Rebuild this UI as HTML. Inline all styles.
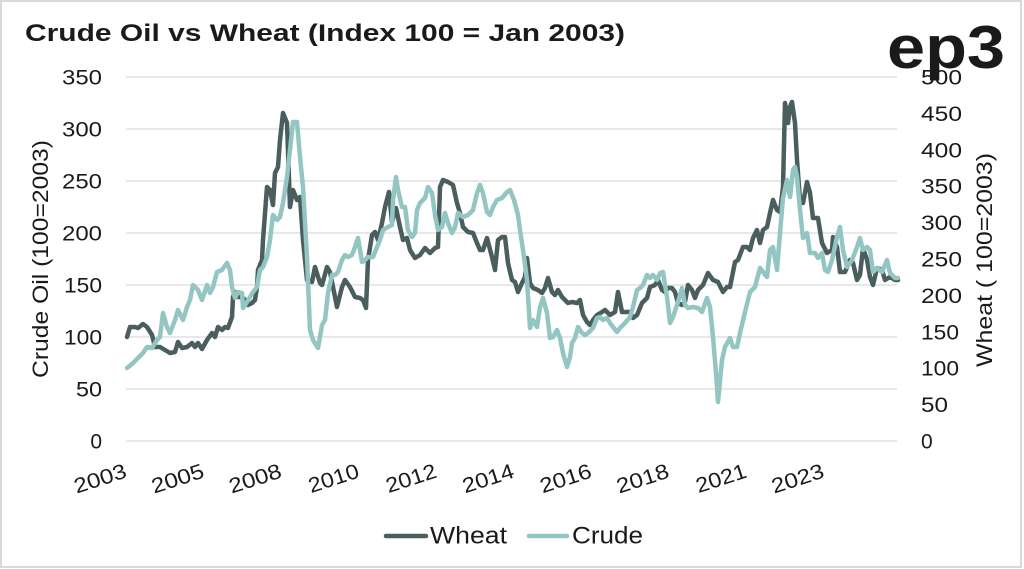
<!DOCTYPE html>
<html>
<head>
<meta charset="utf-8">
<style>
  html,body{margin:0;padding:0;background:#fff;}
  svg{display:block;}
  text{font-family:"Liberation Sans",Arial,sans-serif;fill:#1a1a1a;}
</style>
</head>
<body>
<svg width="1024" height="569" viewBox="0 0 1024 569" xmlns="http://www.w3.org/2000/svg">
  <rect x="0" y="0" width="1024" height="569" fill="#fff"/>
  <rect x="1" y="1" width="1020" height="566" fill="none" stroke="#d9d9d9" stroke-width="2"/>

  <!-- Title -->
  <text x="25" y="41" font-size="24" font-weight="bold" textLength="600" lengthAdjust="spacingAndGlyphs" fill="#111">Crude Oil vs Wheat (Index 100 = Jan 2003)</text>

  <!-- Logo -->
  <text x="887" y="68" font-size="60" font-weight="bold" textLength="118" lengthAdjust="spacingAndGlyphs" fill="#1c1c1c">ep3</text>

  <!-- gridlines -->
  <g stroke="#d9d9d9" stroke-width="1.3">
    <line x1="126" y1="77" x2="897" y2="77"/>
    <line x1="126" y1="129" x2="897" y2="129"/>
    <line x1="126" y1="181" x2="897" y2="181"/>
    <line x1="126" y1="233" x2="897" y2="233"/>
    <line x1="126" y1="285" x2="897" y2="285"/>
    <line x1="126" y1="337" x2="897" y2="337"/>
    <line x1="126" y1="389" x2="897" y2="389"/>
    <line x1="126" y1="441" x2="897" y2="441"/>
  </g>

  <!-- left ticks -->
  <g font-size="21" text-anchor="end">
    <text x="102" y="84.5" textLength="40" lengthAdjust="spacingAndGlyphs">350</text>
    <text x="102" y="136.5" textLength="40" lengthAdjust="spacingAndGlyphs">300</text>
    <text x="102" y="188.5" textLength="40" lengthAdjust="spacingAndGlyphs">250</text>
    <text x="102" y="240.5" textLength="40" lengthAdjust="spacingAndGlyphs">200</text>
    <text x="102" y="292.5" textLength="38" lengthAdjust="spacingAndGlyphs">150</text>
    <text x="102" y="344.5" textLength="38" lengthAdjust="spacingAndGlyphs">100</text>
    <text x="102" y="396.5" textLength="26" lengthAdjust="spacingAndGlyphs">50</text>
    <text x="102" y="448.5">0</text>
  </g>

  <!-- right ticks -->
  <g font-size="21" text-anchor="start">
    <text x="921" y="84.5" textLength="41" lengthAdjust="spacingAndGlyphs">500</text>
    <text x="921" y="120.9" textLength="41" lengthAdjust="spacingAndGlyphs">450</text>
    <text x="921" y="157.3" textLength="41" lengthAdjust="spacingAndGlyphs">400</text>
    <text x="921" y="193.7" textLength="41" lengthAdjust="spacingAndGlyphs">350</text>
    <text x="921" y="230.1" textLength="41" lengthAdjust="spacingAndGlyphs">300</text>
    <text x="921" y="266.5" textLength="41" lengthAdjust="spacingAndGlyphs">250</text>
    <text x="921" y="302.9" textLength="41" lengthAdjust="spacingAndGlyphs">200</text>
    <text x="921" y="339.3" textLength="38" lengthAdjust="spacingAndGlyphs">150</text>
    <text x="921" y="375.7" textLength="38" lengthAdjust="spacingAndGlyphs">100</text>
    <text x="921" y="412.1" textLength="27" lengthAdjust="spacingAndGlyphs">50</text>
    <text x="921" y="448.5">0</text>
  </g>

  <!-- axis titles -->
  <text transform="translate(48,259) rotate(-90)" font-size="22" text-anchor="middle" textLength="238" lengthAdjust="spacingAndGlyphs">Crude Oil (100=2003)</text>
  <text transform="translate(992,260) rotate(-90)" font-size="22" text-anchor="middle" textLength="214" lengthAdjust="spacingAndGlyphs">Wheat ( 100=2003)</text>

  <!-- x labels -->
  <g font-size="21" text-anchor="end">
    <text transform="translate(128,477) rotate(-18)" textLength="54" lengthAdjust="spacingAndGlyphs">2003</text>
    <text transform="translate(205.5,477) rotate(-18)" textLength="54" lengthAdjust="spacingAndGlyphs">2005</text>
    <text transform="translate(283,477) rotate(-18)" textLength="54" lengthAdjust="spacingAndGlyphs">2008</text>
    <text transform="translate(360.5,477) rotate(-18)" textLength="52" lengthAdjust="spacingAndGlyphs">2010</text>
    <text transform="translate(438,477) rotate(-18)" textLength="52" lengthAdjust="spacingAndGlyphs">2012</text>
    <text transform="translate(515.5,477) rotate(-18)" textLength="53" lengthAdjust="spacingAndGlyphs">2014</text>
    <text transform="translate(593,477) rotate(-18)" textLength="53" lengthAdjust="spacingAndGlyphs">2016</text>
    <text transform="translate(670.5,477) rotate(-18)" textLength="54" lengthAdjust="spacingAndGlyphs">2018</text>
    <text transform="translate(748,477) rotate(-18)" textLength="52" lengthAdjust="spacingAndGlyphs">2021</text>
    <text transform="translate(825.5,477) rotate(-18)" textLength="54" lengthAdjust="spacingAndGlyphs">2023</text>
  </g>

  <!-- Wheat series -->
  <polyline fill="none" stroke="#4a5e5d" stroke-width="4.5" stroke-linejoin="round" stroke-linecap="round" points="
127,337 130,327 135,327 138,328 143,324 147,327 152,335 155,347 160,347 165,350 170,353 175,352 178,342 182,348 187,347 192,343 195,347 198,343 202,349 207,340 212,333 215,337 218,327 222,330 225,327 228,328 232,317 233,297 235,292 238,297 242,297 245,300 248,305 252,303 255,300 257,287 258,270 262,260 263,240 267,187 270,190 273,205 275,173 278,167 280,140 283,113 287,123 290,207 293,190 297,200 300,197 303,240 307,280 312,282 315,267 320,283
322,285 327,267 330,272 333,287 337,307 342,287 345,280 350,287 355,297 360,298 363,300 366,308 368,260 372,235 375,232 378,240 382,223 385,207 389,192 392,222 396,208 400,227 403,240 407,238 410,250 415,258 420,255 425,248 430,253 435,248 438,247 440,187 443,180 448,182 453,185 457,203 460,213 463,227 468,232 473,233 477,243 480,250 483,250 487,238 492,257 495,270 498,240 502,237 505,237 508,263 512,280 515,282 518,292 522,283 525,277 527,258 530,283 533,288 538,290 542,293 545,288 548,278 552,292 555,295 558,290 562,297 565,300 568,303 572,302 577,303 580,300 583,315 587,322 590,325 593,320 597,315 602,312 605,310 610,315 615,312 618,292 622,312 627,312 630,312 633,318 637,315 642,303 647,298 650,287 655,285 658,280 662,290 665,292 668,288 672,288 675,292 678,303 682,305 685,302 688,285 692,290 695,298 698,290 703,285 708,273 713,280 718,282 723,292 727,287 730,287 735,262 738,260 743,247 747,247 750,250 753,238 757,230 760,243 763,230 767,227 770,213 773,200 777,210 780,212 783,187 785,103 788,123 790,107 792,102 795,123 797,160 800,200 803,203 807,182 810,193 813,218 818,218 822,243 827,253 832,250 833,237 837,247 840,272 845,272 850,260 853,263 857,280 860,275 863,248 867,260 870,277 873,285 877,268 882,270 885,280 890,277 895,280 898,280"/>

  <!-- Crude series -->
  <polyline fill="none" stroke="#93c5c2" stroke-width="4.5" stroke-linejoin="round" stroke-linecap="round" points="
127,368 133,363 138,358 143,353 147,347 152,348 157,340 160,337 163,313 167,327 170,333 175,320 178,310 183,320 187,307 190,300 193,285 198,290 202,300 207,285 210,293 213,287 217,272 222,270 227,263 230,270 232,287 235,298 238,292 242,293 243,308 247,302 250,297 253,292 257,287 260,270 263,267 267,257 270,240 272,223 273,215 277,220 280,217 283,203 287,177 290,150 293,122 297,122 300,157 303,187 307,257 310,330 313,340 316,345 318,348 322,325 325,320 328,293 332,275 335,275 338,272 342,260 345,255 348,257 352,255 355,247 358,238 362,262 365,260 368,257 373,257 377,247 380,240 383,230 388,227 392,225 393,200 396,177 398,190 402,207 405,207 408,230 412,237 415,233 417,210 420,203 425,198 428,187 432,193 435,215 438,230 442,227 445,213 448,223 452,233 455,227 458,213 463,217 468,215 473,210 477,193 480,185 483,193 487,212 490,215 493,207 497,200 502,198 507,192 510,190 514,200 518,215 520,230 523,250 527,280 530,328 533,320 537,327 540,307 543,298 547,313 550,338 553,337 557,330 560,338 563,353 567,367 570,357 572,343 575,338 578,327 582,333 585,335 588,333 593,328 597,318 600,317 603,320 607,318 610,323 613,327 617,332 620,328 625,323 630,317 633,307 637,290 640,288 643,285 647,275 650,278 653,275 657,280 660,273 663,272 667,297 670,323 673,317 678,302 682,288 685,305 688,308 693,307 698,308 702,312 707,298 710,307 713,337 716,373 718,402 722,360 725,347 730,338 733,347 737,347 740,333 745,312 750,292 755,287 760,268 763,272 767,277 770,250 773,247 777,270 780,233 783,198 787,180 790,197 793,170 795,167 797,177 800,210 803,238 807,233 810,253 815,253 818,258 822,253 825,270 828,272 832,260 837,237 840,227 843,250 847,267 852,260 857,247 860,238 863,250 867,247 870,250 873,272 877,268 882,272 887,260 890,273 895,278 898,278"/>

  <!-- Legend -->
  <line x1="386" y1="536" x2="426" y2="536" stroke="#4a5e5d" stroke-width="4.5" stroke-linecap="round"/>
  <text x="430" y="543.5" font-size="24" textLength="77" lengthAdjust="spacingAndGlyphs">Wheat</text>
  <line x1="529" y1="536" x2="567" y2="536" stroke="#93c5c2" stroke-width="4.5" stroke-linecap="round"/>
  <text x="572" y="543.5" font-size="24" textLength="71" lengthAdjust="spacingAndGlyphs">Crude</text>
</svg>
</body>
</html>
